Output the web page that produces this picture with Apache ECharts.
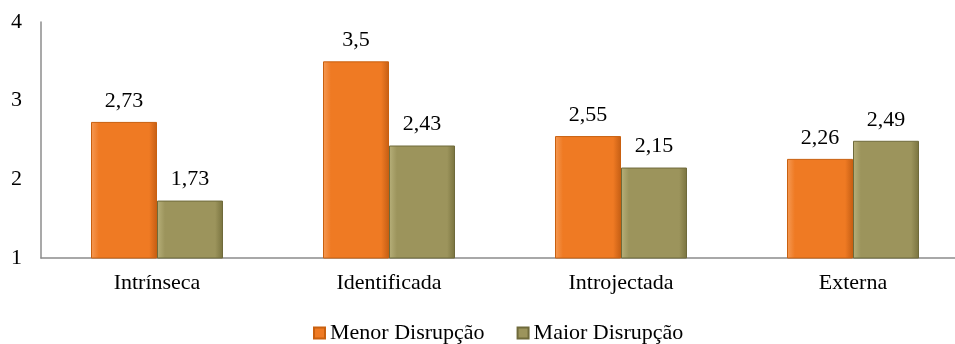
<!DOCTYPE html>
<html>
<head>
<meta charset="utf-8">
<script src="https://cdn.jsdelivr.net/npm/echarts@6/dist/echarts.min.js"></script>
<style>
  html, body { margin: 0; padding: 0; background: #fff; }
  #container { width: 955px; height: 344px; }
</style>
</head>
<body>
<div id="container"></div>
<script>
var categories = ['Intrínseca', 'Identificada', 'Introjectada', 'Externa'];
var menorDisrupcao = [2.73, 3.5, 2.55, 2.26];
var maiorDisrupcao = [1.73, 2.43, 2.15, 2.49];
var yTicks = [1, 2, 3, 4];

var font = '"Liberation Serif", "Times New Roman", serif';

function fmt(p) {
    return String(p.value).replace('.', ',');
}

function bevel(c1, c2, c3) {
    return new echarts.graphic.LinearGradient(0, 0, 1, 0, [
        { offset: 0, color: c1 },
        { offset: 0.12, color: c2 },
        { offset: 0.88, color: c2 },
        { offset: 1, color: c3 }
    ]);
}

var chart = echarts.init(document.getElementById('container'));
chart.setOption({
    animation: false,
    textStyle: { fontFamily: font },
    grid: { left: 41, top: 22, width: 928, height: 236, containLabel: false, outerBoundsMode: 'none' },
    legend: {
        top: 317,
        left: 308,
        itemWidth: 11,
        itemHeight: 11,
        itemGap: 32,
        icon: 'rect',
        textStyle: { fontFamily: font, fontSize: 22, color: '#000' },
        data: ['Menor Disrupção', 'Maior Disrupção']
    },
    xAxis: {
        type: 'category',
        data: categories,
        axisLine: { lineStyle: { color: '#8c8c8c', width: 1.5 } },
        axisTick: { show: false },
        axisLabel: { fontFamily: font, fontSize: 22, color: '#000', margin: 14 }
    },
    yAxis: {
        type: 'value',
        min: yTicks[0],
        max: yTicks[yTicks.length - 1],
        interval: 1,
        splitLine: { show: false },
        axisLine: { show: true, lineStyle: { color: '#8c8c8c', width: 1.5 } },
        axisTick: { show: false },
        axisLabel: { fontFamily: font, fontSize: 22, color: '#000', margin: 19 }
    },
    series: [
        {
            name: 'Menor Disrupção',
            type: 'bar',
            data: menorDisrupcao,
            barWidth: 66,
            barGap: '0%',
            itemStyle: {
                color: bevel('#f59a55', '#ef7a23', '#c55e14'),
                borderColor: '#c9600f',
                borderWidth: 1
            },
            label: {
                show: true, position: 'top', distance: 10,
                formatter: fmt,
                fontFamily: font, fontSize: 22, color: '#000'
            }
        },
        {
            name: 'Maior Disrupção',
            type: 'bar',
            data: maiorDisrupcao,
            barWidth: 66,
            barGap: '0%',
            itemStyle: {
                color: bevel('#b7b07a', '#9c945c', '#79733f'),
                borderColor: '#6f6a3b',
                borderWidth: 1
            },
            label: {
                show: true, position: 'top', distance: 10,
                formatter: fmt,
                fontFamily: font, fontSize: 22, color: '#000'
            }
        }
    ]
});
</script>
</body>
</html>
